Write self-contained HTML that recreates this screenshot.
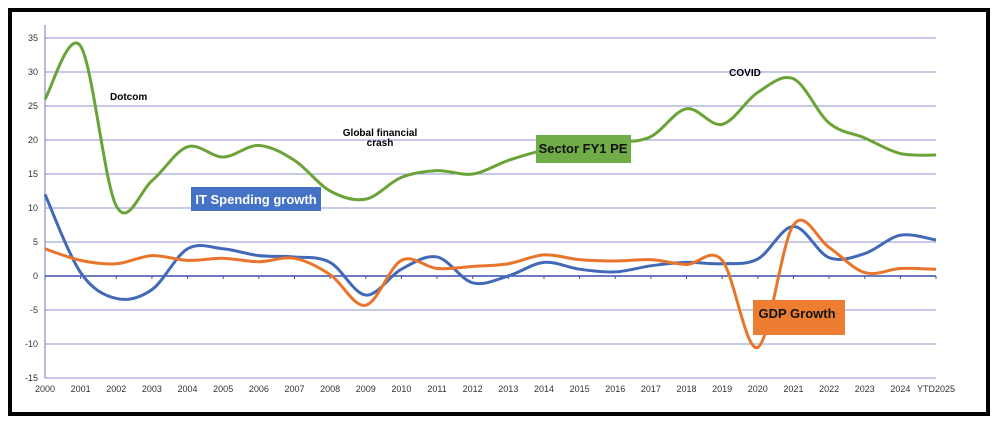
<!DOCTYPE html>
<html><head><meta charset="utf-8"><style>
html,body{margin:0;padding:0;background:#fff;}
svg{display:block;font-family:"Liberation Sans",sans-serif;}
</style></head><body>
<svg id="chart" width="996" height="423" viewBox="0 0 996 423">
<rect x="10" y="10" width="978" height="404" fill="#fff" stroke="#000" stroke-width="4"/>
<g id="grid"></g><g id="ticks"></g><g id="series"></g>
<text x="110" y="100" font-size="10" font-weight="bold" fill="#000">Dotcom</text>
<text x="380" y="136" font-size="10" font-weight="bold" fill="#000" text-anchor="middle">Global financial</text>
<text x="380" y="146" font-size="10" font-weight="bold" fill="#000" text-anchor="middle">crash</text>
<text x="745" y="76" font-size="10" font-weight="bold" fill="#000" text-anchor="middle">COVID</text>
<g><rect x="191" y="187" width="130" height="24" fill="#4472c4"/><text x="256" y="204" font-size="13" font-weight="bold" fill="#fff" text-anchor="middle">IT Spending growth</text></g>
<g><rect x="536" y="135" width="95" height="28" fill="#70ad47"/><text x="583" y="153" font-size="13" font-weight="bold" fill="#111" text-anchor="middle">Sector FY1 PE</text></g>
<g><rect x="753" y="300" width="92" height="35" fill="#ed7d31"/><text x="797" y="318" font-size="13" font-weight="bold" fill="#111" text-anchor="middle">GDP Growth</text></g>
</svg>
<script>
const categories=["2000","2001","2002","2003","2004","2005","2006","2007","2008","2009","2010","2011","2012","2013","2014","2015","2016","2017","2018","2019","2020","2021","2022","2023","2024","YTD2025"];
const yTicks=[35,30,25,20,15,10,5,0,-5,-10,-15];
const sectorPE=[26,33.8,10.3,14,19,17.5,19.2,17,12.5,11.3,14.5,15.5,15,17,18.5,19.3,19.6,20.5,24.6,22.3,27,29,22.5,20.3,18,17.8];
const itSpending=[12,0.5,-3.3,-2,4,4,3,2.8,2,-2.8,1,2.8,-1,0,2,1,0.6,1.5,2,1.8,2.5,7.3,2.7,3.3,6,5.3];
const gdpGrowth=[4,2.3,1.8,3,2.3,2.6,2.1,2.6,0.2,-4.3,2.3,1.1,1.4,1.8,3.1,2.4,2.2,2.4,1.7,2.3,-10.5,7.5,4.2,0.5,1.1,1];
const NS="http://www.w3.org/2000/svg";
const x0=45,x1=936,yTop=38,yBot=378,vMax=35,vMin=-15;
function xs(i){return x0+i*(x1-x0)/(categories.length-1);}
function ys(v){return yTop+(vMax-v)*(yBot-yTop)/(vMax-vMin);}
function mk(tag,attrs,parent){const e=document.createElementNS(NS,tag);for(const k in attrs)e.setAttribute(k,attrs[k]);parent.appendChild(e);return e;}
const grid=document.getElementById('grid'),ticks=document.getElementById('ticks'),ser=document.getElementById('series');
yTicks.forEach(t=>{
  const l=mk('line',{x1:x0,x2:x1,y1:ys(t),y2:ys(t),stroke:t===0?'#3f4fb0':'#8e96cc','stroke-width':t===0?1.5:1},grid);
  
  
  const tx=mk('text',{x:38,y:ys(t)+3,'font-size':9,fill:'#333','text-anchor':'end'},ticks);
  tx.textContent=t;
  
  
});
const ax=mk('line',{x1:x0,x2:x0,y1:25,y2:yBot,stroke:'#6a74c0','stroke-width':1},grid);


categories.forEach((c,i)=>{
  const tk=mk('line',{x1:xs(i),x2:xs(i),y1:ys(0),y2:ys(0)+3,stroke:'#3f4fb0'},grid);
  
  
  const tx=mk('text',{x:xs(i),y:392,'font-size':9,fill:'#333','text-anchor':'middle'},ticks);
  tx.textContent=c;
  
  
});
function smooth(vals){
  const p=vals.map((v,i)=>[xs(i),ys(v)]);
  let d='M'+p[0][0]+','+p[0][1];
  for(let i=0;i<p.length-1;i++){
    const a=p[i-1]||p[i],b=p[i],c=p[i+1],e=p[i+2]||c;
    const c1=[b[0]+(c[0]-a[0])/6,b[1]+(c[1]-a[1])/6],c2=[c[0]-(e[0]-b[0])/6,c[1]-(e[1]-b[1])/6];
    d+=' C'+c1+' '+c2+' '+c;
  }
  return d;
}
[[sectorPE,'#6aa338','sector-pe-line'],[itSpending,'#4169b8','it-spending-line'],[gdpGrowth,'#e8752c','gdp-growth-line']].forEach(s=>{
  const p=mk('path',{d:smooth(s[0]),fill:'none',stroke:s[1],'stroke-width':3,'stroke-linejoin':'round'},ser);
  
  
});
</script>
</body></html>
